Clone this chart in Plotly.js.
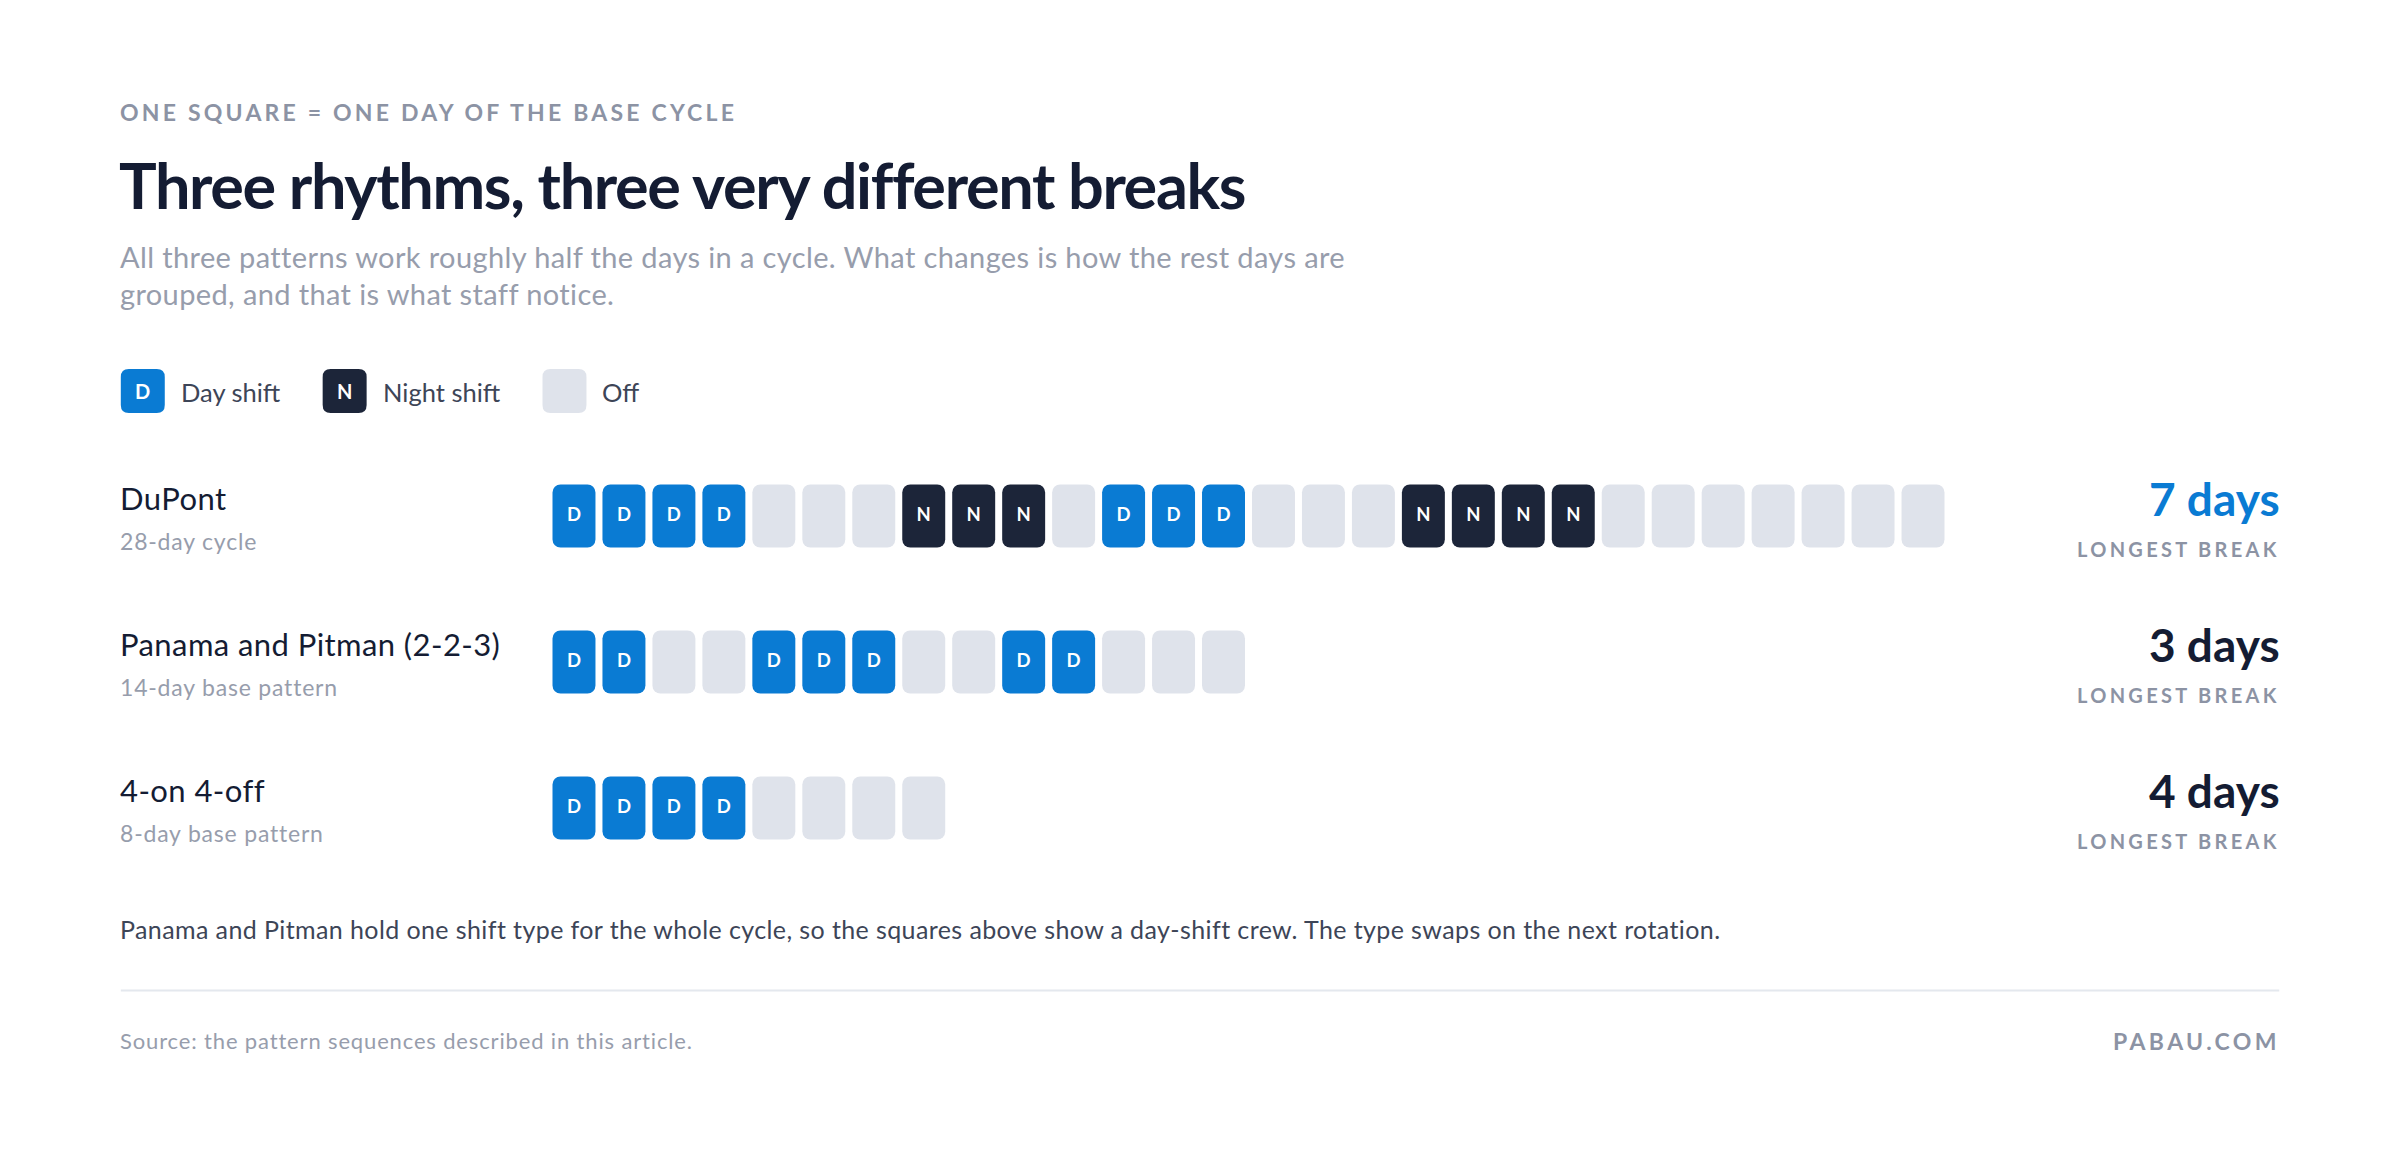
<!DOCTYPE html>
<html>
<head>
<meta charset="utf-8">
<script src="https://cdn.plot.ly/plotly-3.0.1.min.js"></script>
<style>
  html, body { margin: 0; padding: 0; background: #ffffff; }
  #chart { width: 2400px; height: 1156px; }
</style>
</head>
<body>
<div id="chart"></div>
<script>
// ---------- DATA ----------
const patternNames = ["DuPont", "Panama and Pitman (2-2-3)", "4-on 4-off"];
const patternNotes = ["28-day cycle", "14-day base pattern", "8-day base pattern"];
const dupontDays  = ["D","D","D","D","O","O","O","N","N","N","O","D","D","D","O","O","O","N","N","N","N","O","O","O","O","O","O","O"];
const panamaDays  = ["D","D","O","O","D","D","D","O","O","D","D","O","O","O"];
const fourOnDays  = ["D","D","D","D","O","O","O","O"];
const longestBreakDays = [7, 3, 4];
const legendLabels = ["Day shift", "Night shift", "Off"];

// ---------- STYLE ----------
const W = 2400, H = 1156;
const M = { l: 548.5, r: 451.5, t: 443, b: 275 };
const PW = W - M.l - M.r, PH = H - M.t - M.b;
const FONT = "Lato, 'Open Sans', sans-serif";
const C = {
  day: "#0a7bd3", night: "#1c2539", off: "#dfe3eb",
  navy: "#141c33", gray: "#8c93a4", light: "#979dac", text: "#3d4557", rule: "#e4e8ee"
};
const stateColor = { D: C.day, N: C.night, O: C.off };
const SQ_W = 0.86, SQ_H = 0.432;
const PAD = 3; // annotation inner padding compensation (px)

function px(x) { return (x - M.l) / PW; }
function py(y) { return 1 - (y - M.t) / PH; }
function rowY(r) { return -r; } // rows run top to bottom

// ---------- TRACES ----------
const allRows = [dupontDays, panamaDays, fourOnDays];
const traces = [];
["D", "N", "O"].forEach(state => {
  const xs = [], ys = [];
  allRows.forEach((days, r) => days.forEach((s, i) => { if (s === state) { xs.push(i); ys.push(rowY(r)); } }));
  traces.push({
    type: "bar",
    x: xs,
    base: ys.map(v => v - SQ_H / 2),
    y: ys.map(() => SQ_H),
    width: SQ_W,
    marker: { color: stateColor[state], line: { width: 0 }, cornerradius: 8 },
    showlegend: false,
    hoverinfo: "skip"
  });
});
// letters inside squares
(function () {
  const xs = [], ys = [], tx = [];
  allRows.forEach((days, r) => days.forEach((s, i) => { if (s !== "O") { xs.push(i); ys.push(rowY(r)); tx.push(s); } }));
  traces.push({
    type: "scatter", mode: "text", x: xs, y: ys, text: tx,
    textposition: "middle center",
    textfont: { family: FONT, size: 18.5, color: "#ffffff", weight: 700 },
    showlegend: false, hoverinfo: "skip", cliponaxis: false
  });
})();

// ---------- LAYOUT ----------
function ls(txt, sp) { return '<span style="letter-spacing:' + sp + 'px">' + txt + '</span>'; }

const annotations = [];
function addText(text, x, y, size, color, weight) {
  annotations.push({
    text: text, xref: "paper", yref: "paper", x: px(x - PAD), y: py(y),
    xanchor: "left", yanchor: "middle", showarrow: false,
    font: { family: FONT, size: size, color: color, weight: weight || 400 }
  });
}

addText(ls("ONE SQUARE = ONE DAY OF THE BASE CYCLE", 3.2), 120, 111.7, 23, C.gray, 700);
addText(ls("Three rhythms, three very different breaks", -1.35), 119, 184, 63, C.navy, 700);
addText(ls("All three patterns work roughly half the days in a cycle. What changes is how the rest days are", 0.38), 120, 256.7, 29, C.light);
addText(ls("grouped, and that is what staff notice.", 0.38), 120, 293, 29, C.light);

// legend
const legendSq = [[120, "D", C.day], [322, "N", C.night], [542, "", C.off]];
const legendTx = [181, 383, 603];
const shapes = [];
function roundRect(x0, y0, x1, y1, r) {
  const p = (x, y) => px(x) + "," + py(y);
  return "M" + p(x0 + r, y0) + " L" + p(x1 - r, y0) + " Q" + p(x1, y0) + " " + p(x1, y0 + r) +
    " L" + p(x1, y1 - r) + " Q" + p(x1, y1) + " " + p(x1 - r, y1) +
    " L" + p(x0 + r, y1) + " Q" + p(x0, y1) + " " + p(x0, y1 - r) +
    " L" + p(x0, y0 + r) + " Q" + p(x0, y0) + " " + p(x0 + r, y0) + " Z";
}
legendSq.forEach((d, k) => {
  shapes.push({ type: "path", xref: "paper", yref: "paper", path: roundRect(d[0], 369, d[0] + 44, 413, 8),
    fillcolor: d[2], line: { width: 0 }, layer: "above" });
  if (d[1]) {
    annotations.push({ text: d[1], xref: "paper", yref: "paper", x: px(d[0] + 22), y: py(391), xanchor: "center", yanchor: "middle",
      showarrow: false, font: { family: FONT, size: 20, color: "#ffffff", weight: 700 } });
  }
  addText(legendLabels[k], legendTx[k], 391.5, 25.5, C.text);
});

// row labels and right-side values
patternNames.forEach((name, r) => {
  annotations.push({ text: ls(name, 0.42), xref: "paper", yref: "y", x: px(120 - PAD), y: rowY(r), yshift: 18.5,
    xanchor: "left", yanchor: "middle", showarrow: false, font: { family: FONT, size: 31, color: C.navy } });
  annotations.push({ text: ls(patternNotes[r], 0.8), xref: "paper", yref: "y", x: px(120 - PAD), y: rowY(r), yshift: -25.3,
    xanchor: "left", yanchor: "middle", showarrow: false, font: { family: FONT, size: 23, color: C.light } });
  annotations.push({ text: longestBreakDays[r] + " days", xref: "paper", yref: "y", x: px(2280 + PAD), y: rowY(r), yshift: 17.6,
    xanchor: "right", yanchor: "middle", showarrow: false,
    font: { family: FONT, size: 46, color: r === 0 ? C.day : C.navy, weight: 700 } });
  annotations.push({ text: ls("LONGEST BREAK", 3.3), xref: "paper", yref: "y", x: px(2280 + PAD), y: rowY(r), yshift: -33,
    xanchor: "right", yanchor: "middle", showarrow: false,
    font: { family: FONT, size: 20, color: C.gray, weight: 700 } });
});

addText(ls("Panama and Pitman hold one shift type for the whole cycle, so the squares above show a day-shift crew. The type swaps on the next rotation.", 0.4), 120, 928.5, 25, C.text);
shapes.push({ type: "line", xref: "paper", yref: "paper", x0: px(120), x1: px(2280), y0: py(990.5), y1: py(990.5),
  line: { color: C.rule, width: 2 } });
addText(ls("Source: the pattern sequences described in this article.", 0.85), 120, 1040, 22, C.light);
annotations.push({ text: ls("PABAU.COM", 3.4), xref: "paper", yref: "paper", x: px(2280 + PAD), y: py(1040.5),
  xanchor: "right", yanchor: "middle", showarrow: false, font: { family: FONT, size: 23, color: C.gray, weight: 700 } });

const layout = {
  width: W, height: H,
  margin: M,
  paper_bgcolor: "#ffffff", plot_bgcolor: "#ffffff",
  barmode: "overlay",
  showlegend: false,
  hovermode: false,
  xaxis: { range: [-0.5, 27.5], visible: false, fixedrange: true },
  yaxis: { range: [-2.5, 0.5], visible: false, fixedrange: true },
  annotations: annotations,
  shapes: shapes,
  font: { family: FONT }
};

Plotly.newPlot("chart", traces, layout, { staticPlot: true, displayModeBar: false });
</script>
</body>
</html>
